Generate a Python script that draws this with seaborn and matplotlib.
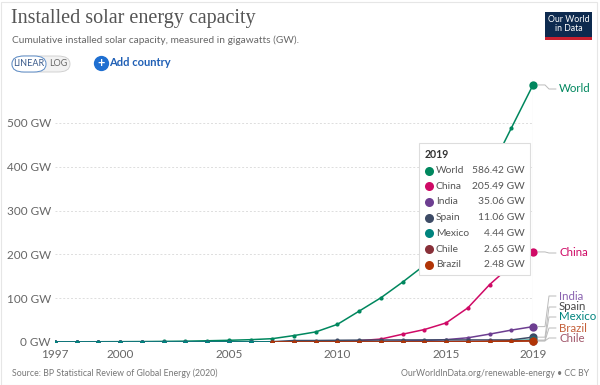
import numpy as np
import pandas as pd
import seaborn as sns
import matplotlib.pyplot as plt
from matplotlib.patches import FancyBboxPatch, Rectangle
from matplotlib.lines import Line2D

# installed solar capacity (GW)
years = list(range(1997, 2020))
world = [0.4, 0.5, 0.6, 0.8, 1.0, 1.4, 1.9, 2.8, 3.9, 5.3, 7.6, 14.7, 23.0, 40.3,
         70.5, 100.9, 136.7, 175.0, 223.0, 295.7, 388.6, 487.8, 586.42]
china = [0.0, 0.0, 0.0, 0.0, 0.0, 0.0, 0.1, 0.1, 0.1, 0.1, 0.1, 0.1, 0.4, 0.8,
         3.1, 6.7, 17.8, 28.4, 43.5, 77.8, 130.8, 175.0, 205.49]
india = [0.0, 0.0, 0.0, 0.0, 0.0, 0.0, 0.0, 0.0, 0.0, 0.0, 0.0, 0.0, 0.0, 0.1,
         0.6, 1.2, 2.3, 3.4, 5.4, 9.6, 18.0, 27.1, 35.06]
spain = [0.0, 0.0, 0.0, 0.0, 0.0, 0.0, 0.0, 0.0, 0.1, 0.1, 0.7, 3.4, 3.4, 3.9,
         4.3, 4.5, 4.7, 4.7, 4.7, 4.7, 4.7, 4.7, 11.06]
mexico = [0.0, 0.0, 0.0, 0.0, 0.0, 0.0, 0.0, 0.0, 0.0, 0.0, 0.0, 0.0, 0.0, 0.0,
          0.0, 0.1, 0.1, 0.1, 0.2, 0.4, 0.7, 3.0, 4.44]
chile = [np.nan] * 10 + [0.0, 0.0, 0.0, 0.0, 0.0, 0.0, 0.0, 0.2, 0.6, 1.1, 1.8, 2.4, 2.65]
brazil = [np.nan] * 10 + [0.0, 0.0, 0.0, 0.0, 0.0, 0.0, 0.0, 0.0, 0.0, 0.1, 0.9, 1.8, 2.48]

countries = ["World", "China", "India", "Spain", "Mexico", "Chile", "Brazil"]
colors = ["#00875E", "#CF0A66", "#6D3E91", "#3D4B66", "#00847E", "#883039", "#B13507"]
label_colors = ["#00875E", "#CF0A66", "#8A62B0", "#4a4a4a", "#00847E", "#a0566a", "#c4603a"]

df = pd.DataFrame({"Year": years, "World": world, "China": china, "India": india,
                   "Spain": spain, "Mexico": mexico, "Chile": chile, "Brazil": brazil})
long = df.melt(id_vars="Year", var_name="Country", value_name="GW").dropna()

sns.set_theme(style="white")
plt.rcParams['font.family'] = ['Lato', 'DejaVu Sans']

W, H = 600, 385
fig = plt.figure(figsize=(6, 3.85), dpi=100)
fx = lambda px: px / W
fy = lambda py: 1 - py / H

ax = fig.add_axes([fx(55), fy(342), fx(533) - fx(55), fy(79) - fy(342)])
sns.lineplot(data=long, x="Year", y="GW", hue="Country", hue_order=countries,
             palette=colors, marker="o", markersize=3, markeredgewidth=0,
             linewidth=1.1, legend=False, ax=ax)

# bigger end points for 2019
last = df[df.Year == 2019]
for c, col in zip(countries, colors):
    ax.plot(2019, last[c].iloc[0], "o", color=col, markersize=6, markeredgewidth=0,
            zorder=5, clip_on=False)

ax.set_xlim(1997, 2019)
ax.set_ylim(0, 600)
ax.set_xticks([1997, 2000, 2005, 2010, 2015, 2019])
ax.set_yticks([0, 100, 200, 300, 400, 500])
ax.set_yticklabels([f"{v} GW" for v in [0, 100, 200, 300, 400, 500]])
ax.tick_params(axis="both", length=0, labelsize=8.5, labelcolor="#666666", pad=3)
ax.tick_params(axis="x", pad=5)
ax.set_xlabel("")
ax.set_ylabel("")
ax.grid(axis="y", color="#dddddd", linestyle=(0, (2, 2)), linewidth=0.7)
for s in ax.spines.values():
    s.set_visible(False)
ax.axhline(0, color="#999999", linewidth=0.8, zorder=0)
ax.axvline(2019, color="#cccccc", linewidth=0.8, zorder=0)

# right side labels with connectors
label_y = [89, 253, 296, 307, 317, 338, 328]
for c, col, lc, ly in zip(countries, colors, label_colors, label_y):
    xd, yd = ax.transData.transform((2019, last[c].iloc[0]))
    py = H - yd
    fig.add_artist(Line2D([fx(538), fx(545), fx(549), fx(556)],
                          [fy(py), fy(py), fy(ly), fy(ly)],
                          color="#bbbbbb", linewidth=0.7))
    fig.text(fx(559), fy(ly), c, color=lc, fontsize=8.3, va="center", ha="left")

# tooltip
fig.add_artist(FancyBboxPatch((fx(419), fy(275)), fx(530) - fx(419), fy(143) - fy(275),
                              boxstyle="square,pad=0", facecolor="white",
                              edgecolor="#dddddd", linewidth=0.8, zorder=10))
fig.text(fx(425), fy(155), "2019", fontsize=7.6, fontweight="bold", color="#333333",
         va="center", zorder=11)
vals = [world[-1], china[-1], india[-1], spain[-1], mexico[-1], chile[-1], brazil[-1]]
for i, (c, col, v) in enumerate(zip(countries, colors, vals)):
    ry = 170.5 + i * 15.7
    fig.add_artist(Line2D([fx(429)], [fy(ry)], marker="o", markersize=6.5,
                          markeredgewidth=0, color=col, zorder=11))
    fig.text(fx(436), fy(ry), c, fontsize=7.4, color="#555555", va="center", zorder=11)
    fig.text(fx(525), fy(ry), f"{v:.2f} GW", fontsize=7.4, color="#555555",
             va="center", ha="right", zorder=11)

# header
fig.text(fx(11), fy(18), "Installed solar energy capacity", fontsize=14.5,
         family="Liberation Serif", color="#555555", va="center")
fig.text(fx(12), fy(40), "Cumulative installed solar capacity, measured in gigawatts (GW).",
         fontsize=7.3, color="#666666", va="center")
fig.add_artist(FancyBboxPatch((fx(12), fy(72)), fx(70) - fx(12), fy(56) - fy(72),
                              boxstyle="round,pad=0,rounding_size=0.02",
                              facecolor="#f2f2f2", edgecolor="#cccccc", linewidth=0.6))
fig.add_artist(FancyBboxPatch((fx(12), fy(72)), fx(46) - fx(12), fy(56) - fy(72),
                              boxstyle="round,pad=0,rounding_size=0.02",
                              facecolor="white", edgecolor="#5b8cc8", linewidth=0.7))
fig.text(fx(29), fy(64), "LINEAR", fontsize=6.5, color="#3a5a8a", ha="center", va="center")
fig.text(fx(58), fy(64), "LOG", fontsize=6.5, color="#666666", ha="center", va="center")
fig.add_artist(Line2D([fx(101)], [fy(63)], marker="o", markersize=11,
                      markeredgewidth=0, color="#1f6fd1"))
fig.text(fx(101), fy(63.3), "+", fontsize=9, fontweight="bold", color="white",
         ha="center", va="center")
fig.text(fx(109), fy(63), "Add country", fontsize=8, fontweight="bold",
         color="#1f5fb5", va="center")

# logo
fig.add_artist(Rectangle((fx(545), fy(40)), fx(592) - fx(545), fy(12) - fy(40),
                         facecolor="#0d2a4f", edgecolor="none"))
fig.add_artist(Rectangle((fx(545), fy(40)), fx(592) - fx(545), fy(37) - fy(40),
                         facecolor="#c8202f", edgecolor="none"))
fig.text(fx(568.5), fy(24), "Our World\nin Data", fontsize=6.3, color="white",
         ha="center", va="center", linespacing=1.0)

# footer
fig.text(fx(12), fy(373), "Source: BP Statistical Review of Global Energy (2020)",
         fontsize=6.3, color="#777777", va="center")
fig.text(fx(589), fy(373), "OurWorldInData.org/renewable-energy \u2022 CC BY",
         fontsize=6.3, color="#777777", va="center", ha="right")

# outer frame
fig.add_artist(Rectangle((fx(0.5), fy(384.5)), fx(597) - fx(0.5), fy(2) - fy(384.5),
                         facecolor="none", edgecolor="#e6e6e6", linewidth=0.8))

fig.savefig("out.png", dpi=100)
